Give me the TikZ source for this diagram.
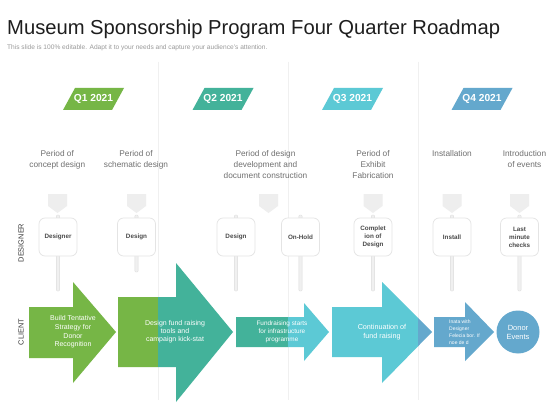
\documentclass[tikz,border=0pt]{standalone}
\usepackage{fontspec}
\setmainfont{Liberation Sans}
\definecolor{qgreen}{HTML}{76B646}
\definecolor{qteal}{HTML}{43B29A}
\definecolor{qcyan}{HTML}{5CC9D5}
\definecolor{qblue}{HTML}{64A8CD}
\definecolor{titlecol}{HTML}{1E1E1E}
\definecolor{subcol}{HTML}{9A9A9A}
\definecolor{periodgray}{HTML}{707070}
\definecolor{boxborder}{HTML}{E4E4E4}
\definecolor{boxtext}{HTML}{4A4A4A}
\definecolor{flagfill}{HTML}{EEEEEE}
\definecolor{stickfill}{HTML}{F0F0F0}
\definecolor{stickdraw}{HTML}{DCDCDC}
\definecolor{divcol}{HTML}{F0F0F0}
\definecolor{sidecol}{HTML}{3A3A3A}
\newcommand\pinflag[1]{\fill[flagfill] (#1-9.5,194) -- (#1+9.5,194) -- (#1+9.5,206) -- (#1,213) -- (#1-9.5,206) -- cycle;}
\newcommand\pinstick[2]{\draw[stickfill, draw=stickdraw, line width=0.4pt, fill=stickfill, rounded corners=1pt] (#1-1.6,215) rectangle (#1+1.6,#2);}
\newcommand\qshape[2]{\fill[#2] (#1-18.5,88) -- (#1+30.5,88) -- (#1+18.5,110) -- (#1-30.5,110) -- cycle;}
\begin{document}
\begin{tikzpicture}[x=1pt,y=-1pt,
  period/.style={font=\fontsize{8.3}{11}\selectfont, text=periodgray, align=center, anchor=north, inner sep=0pt},
  qlabel/.style={font=\bfseries\fontsize{10.2}{12}\selectfont, text=white, inner sep=0pt},
  pinbox/.style={draw=boxborder, fill=white, rounded corners=6pt, minimum width=38pt, minimum height=38pt, line width=0.7pt, font=\bfseries\fontsize{6.3}{8}\selectfont, text=boxtext, align=center, inner sep=1pt},
  sidelabel/.style={font=\fontsize{7.4}{9}\selectfont, text=sidecol, rotate=90, inner sep=0pt},
  arrowtext/.style={text=white, align=center, inner sep=0pt}
]
\useasboundingbox[fill=white] (0,0) rectangle (560,420);

% title
\node[anchor=base west, inner sep=0pt, font=\fontsize{20.2}{24}\selectfont, text=titlecol] (title) at (7,35) {Museum Sponsorship Program Four Quarter Roadmap};
\node[anchor=base west, inner sep=0pt, font=\fontsize{6.6}{8}\selectfont, text=subcol] (sub) at (7,50) {This slide is 100\% editable. Adapt it to your needs and capture your audience’s attention.};

% dividers
\foreach \x in {158,288,418} \draw[divcol, line width=0.6pt] (\x,62) -- (\x,400);

% quarter labels
\qshape{93.5}{qgreen}\node[qlabel] (q1) at (93.5,99) {Q1 2021};
\qshape{223}{qteal}\node[qlabel] (q2) at (223,99) {Q2 2021};
\qshape{352.5}{qcyan}\node[qlabel] (q3) at (352.5,99) {Q3 2021};
\qshape{482}{qblue}\node[qlabel] (q4) at (482,99) {Q4 2021};

% period texts
\node[period] (p1) at (57.3,150) {Period of\\concept design};
\node[period] (p2) at (136,150) {Period of\\schematic design};
\node[period] (p3) at (265.5,150) {Period of design\\development and\\document construction};
\node[period] (p4) at (373,150) {Period of\\Exhibit\\Fabrication};
\node[period] (p5) at (452,150) {Installation};
\node[period] (p6) at (524.5,150) {Introduction\\of events};

% side labels
\node[sidelabel] (designer) at (21,243) {DESIGNER};
\node[sidelabel] (client) at (21,332) {CLIENT};

% flags
\pinflag{57.5}\pinflag{136.5}\pinflag{268.5}\pinflag{373}\pinflag{452}\pinflag{519.5}

% sticks
\pinstick{58}{291}\pinstick{136.5}{272}\pinstick{236}{291}\pinstick{300.5}{291}\pinstick{373}{291}\pinstick{452}{291}\pinstick{519.5}{291}

% boxes
\node[pinbox] (b1) at (58,237) {Designer};
\node[pinbox] (b2) at (136.5,237) {Design};
\node[pinbox] (b3) at (236,237) {Design};
\node[pinbox] (b4) at (300.5,237) {On-Hold};
\node[pinbox] (b5) at (373,237) {Complet\\ion of\\Design};
\node[pinbox] (b6) at (452,237) {Install};
\node[pinbox] (b7) at (519.5,237) {Last\\minute\\checks};

% arrow 1
\fill[qgreen] (29,307)--(73,307)--(73,282)--(116,332)--(73,383)--(73,358)--(29,358)--cycle;
% arrow 2
\begin{scope}\clip (0,0) rectangle (158,420);
\fill[qgreen] (118,297)--(176,297)--(176,263)--(233,332)--(176,402)--(176,367)--(118,367)--cycle;
\end{scope}
\begin{scope}\clip (158,0) rectangle (560,420);
\fill[qteal] (118,297)--(176,297)--(176,263)--(233,332)--(176,402)--(176,367)--(118,367)--cycle;
\end{scope}
% arrow 3
\begin{scope}\clip (0,0) rectangle (288,420);
\fill[qteal] (236,317)--(304,317)--(304,303)--(329,332)--(304,361)--(304,347)--(236,347)--cycle;
\end{scope}
\begin{scope}\clip (288,0) rectangle (560,420);
\fill[qcyan] (236,317)--(304,317)--(304,303)--(329,332)--(304,361)--(304,347)--(236,347)--cycle;
\end{scope}
% arrow 4
\begin{scope}\clip (0,0) rectangle (418,420);
\fill[qcyan] (332,307)--(382,307)--(382,282)--(432,332)--(382,383)--(382,357)--(332,357)--cycle;
\end{scope}
\begin{scope}\clip (418,0) rectangle (560,420);
\fill[qblue] (332,307)--(382,307)--(382,282)--(432,332)--(382,383)--(382,357)--(332,357)--cycle;
\end{scope}
% arrow 5
\fill[qblue] (434,317)--(465,317)--(465,302)--(494,332)--(465,361)--(465,347)--(434,347)--cycle;
% circle
\fill[qblue] (518,332) circle[radius=21.5];

% arrow texts
\node[arrowtext, font=\fontsize{7}{8.7}\selectfont] (a1) at (73,332) {Build Tentative\\Strategy for\\Donor\\Recognition};
\node[arrowtext, font=\fontsize{7}{8}\selectfont] (a2) at (175,332) {Design fund raising\\tools and\\campaign kick-stat};
\node[arrowtext, font=\fontsize{6.4}{7.8}\selectfont] (a3) at (282,332) {Fundraising starts\\for infrastructure\\programme};
\node[arrowtext, font=\fontsize{7.2}{9}\selectfont] (a4) at (382,332.5) {Continuation of\\fund raising};
\node[arrowtext, align=left, anchor=west, font=\fontsize{5}{7}\selectfont] (a5) at (449,332.5) {Inata with\\Designer\\Felecia bor. If\\noe de d};
\node[arrowtext, font=\fontsize{7.5}{9}\selectfont] (donor) at (518,332.5) {Donor\\Events};
\end{tikzpicture}
\end{document}
